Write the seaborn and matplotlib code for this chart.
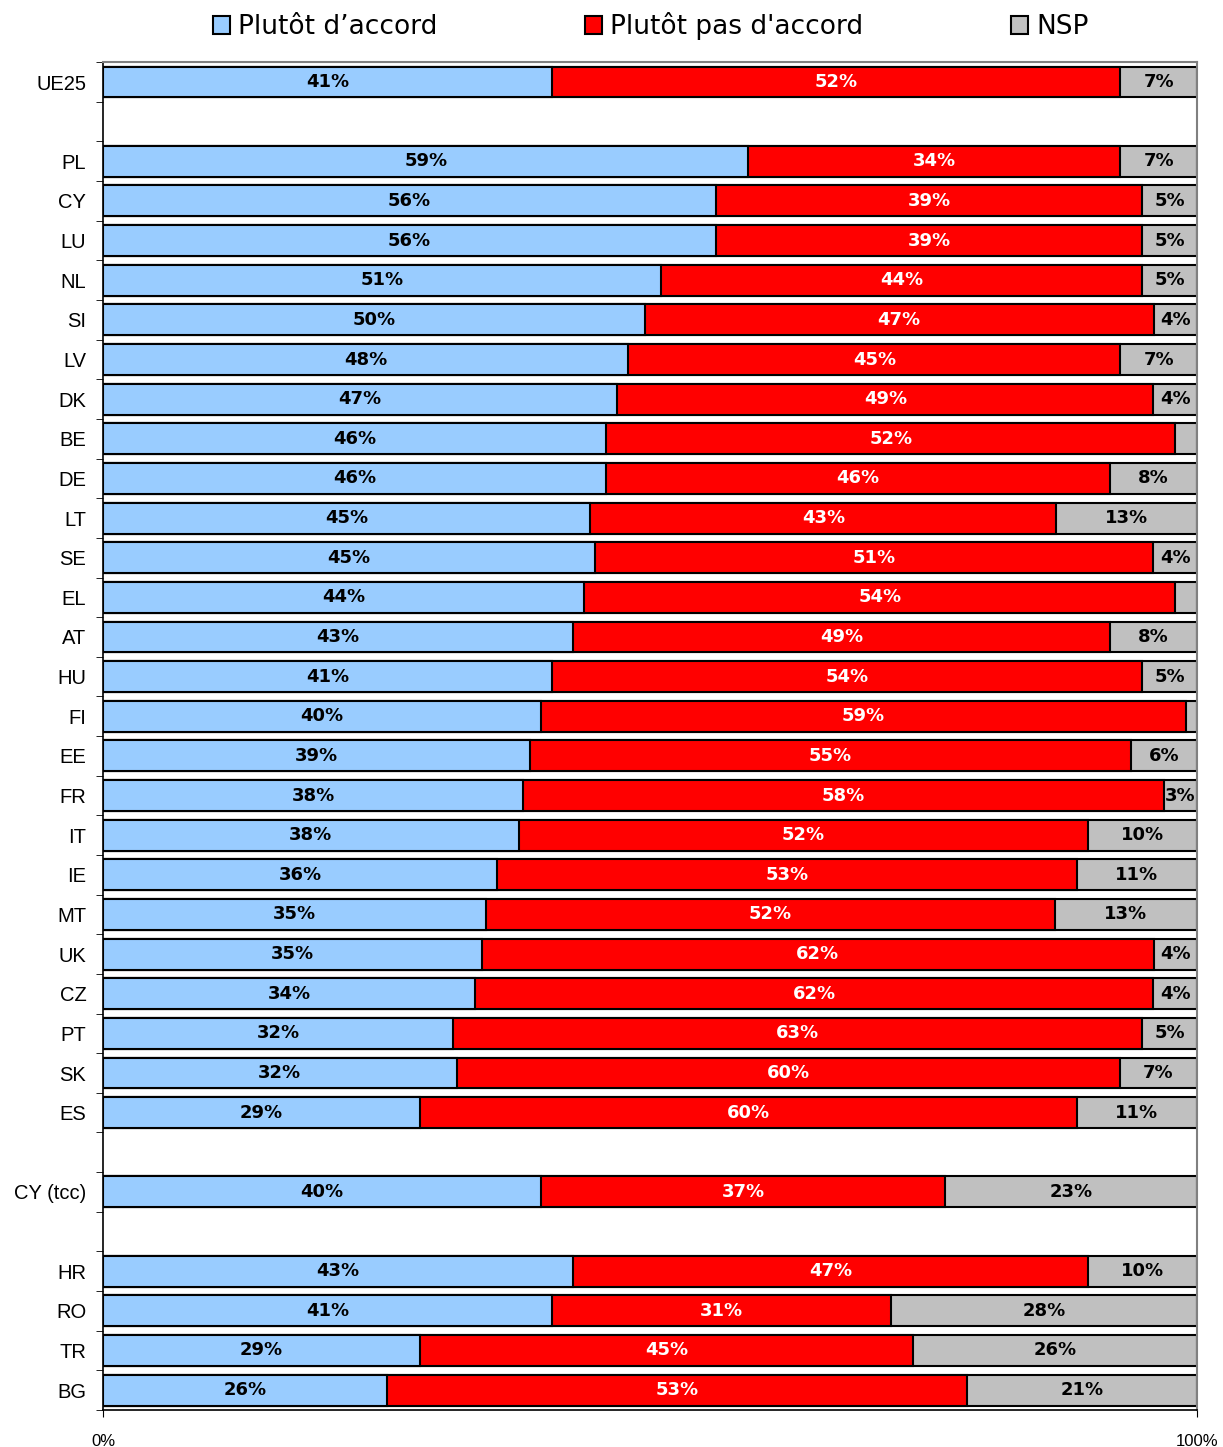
import numpy as np
import pandas as pd
import seaborn as sns
import matplotlib.pyplot as plt
from matplotlib.patches import Patch

# Row order, "" entries are blank separator rows
countries = ["UE25", "", "PL", "CY", "LU", "NL", "SI", "LV", "DK", "BE", "DE", "LT", "SE",
             "EL", "AT", "HU", "FI", "EE", "FR", "IT", "IE", "MT", "UK", "CZ", "PT", "SK",
             "ES", " ", "CY (tcc)", "  ", "HR", "RO", "TR", "BG"]
accord = [41, None, 59, 56, 56, 51, 50, 48, 47, 46, 46, 45, 45, 44, 43, 41, 40, 39, 38, 38,
          36, 35, 35, 34, 32, 32, 29, None, 40, None, 43, 41, 29, 26]
pas_accord = [52, None, 34, 39, 39, 44, 47, 45, 49, 52, 46, 43, 51, 54, 49, 54, 59, 55, 58,
              52, 53, 52, 62, 62, 63, 60, 60, None, 37, None, 47, 31, 45, 53]
nsp = [7, None, 7, 5, 5, 5, 4, 7, 4, 2, 8, 13, 4, 2, 8, 5, 1, 6, 3, 10, 11, 13, 4, 4, 5, 7,
       11, None, 23, None, 10, 28, 26, 21]

labels = ["Plutôt d’accord", "Plutôt pas d'accord", "NSP"]
colors = ["#99ccff", "#ff0000", "#c0c0c0"]

df = pd.DataFrame({"pays": countries, "a": accord, "b": pas_accord, "c": nsp})
df = df[df["a"].notna()].copy()
tot = df["a"] + df["b"] + df["c"]
df["s1"] = df["a"] / tot * 100
df["s2"] = (df["a"] + df["b"]) / tot * 100
df["s3"] = 100.0

fig = plt.figure(figsize=(12.23, 14.47), dpi=100)
ax = fig.add_axes([0.0842, 0.0256, 0.8946, 0.9314])

# stacked by overlaying cumulative bars
for col, c in zip(["s3", "s2", "s1"], colors[::-1]):
    sns.barplot(data=df, x=col, y="pays", order=countries, orient="h", color=c,
                width=0.78, edgecolor="black", linewidth=1.5, saturation=1, ax=ax)

pos = {p: i for i, p in enumerate(countries)}
for _, r in df.iterrows():
    y = pos[r["pays"]]
    segs = [(0, r["s1"], r["a"], "black"), (r["s1"], r["s2"], r["b"], "white"),
            (r["s2"], 100, r["c"], "black")]
    for x0, x1, v, tc in segs:
        if v >= 3:
            ax.text((x0 + x1) / 2, y, f"{int(v)}%", ha="center", va="center",
                    color=tc, fontsize=13, fontweight="bold", family="DejaVu Sans")

ax.set_xlim(0, 100)
ax.set_ylim(len(countries) - 0.5, -0.5)
ax.set_xticks([0, 100])
ax.set_xticklabels(["0%", "100%"], fontsize=12, family="Liberation Sans")
ax.tick_params(axis="x", length=5, pad=12)
ax.set_yticks(range(len(countries)))
ax.set_yticklabels([p.strip() for p in countries], fontsize=14.5, family="Liberation Sans")
ax.tick_params(axis="y", length=0, pad=12)
ax.set_yticks(np.arange(-0.5, len(countries), 1), minor=True)
ax.tick_params(axis="y", which="minor", length=5)
ax.set_xlabel("")
ax.set_ylabel("")
for s in ["top", "right"]:
    ax.spines[s].set_color("#808080")
    ax.spines[s].set_linewidth(1.5)
ax.spines["left"].set_linewidth(1.2)
ax.spines["bottom"].set_linewidth(1.2)

handles = [Patch(facecolor=c, edgecolor="black", linewidth=1.5) for c in colors]
fig.legend(handles, labels, loc="center", bbox_to_anchor=(0.532, 0.982), ncol=3,
           frameon=False, fontsize=19, handlelength=0.65, handleheight=0.65,
           handletextpad=0.3, columnspacing=5.6)

fig.savefig("out.png", dpi=100)
